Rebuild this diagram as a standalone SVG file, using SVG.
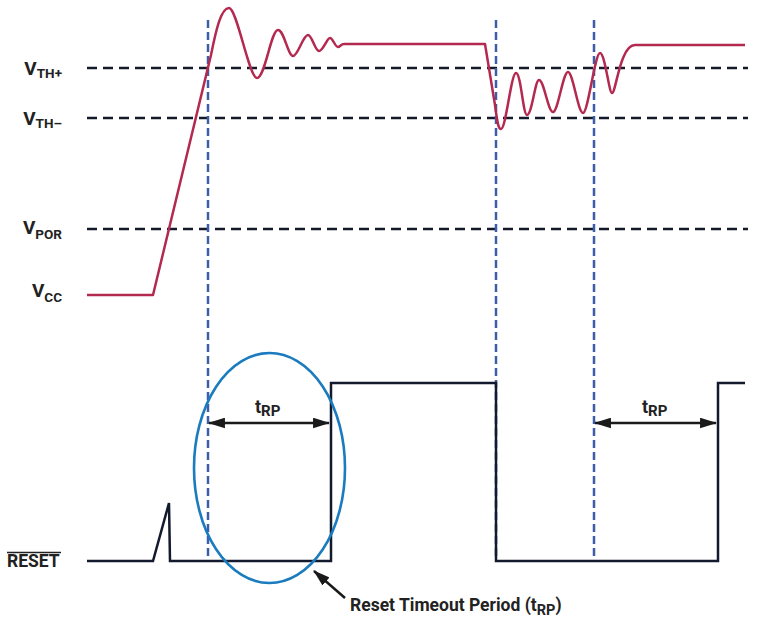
<svg xmlns="http://www.w3.org/2000/svg" width="760" height="619" viewBox="0 0 760 619">
<defs>
<style>
.lbl{font-family:Roboto,"Liberation Sans",sans-serif;font-weight:700;fill:#222;}
.v{font-size:19px;}
.sub{font-size:13.5px;}
.thr{stroke:#151a2b;stroke-width:2.3;stroke-dasharray:10 6;fill:none;}
.mark{stroke:#3c5ea8;stroke-width:2.5;stroke-dasharray:8 4;fill:none;}
.sig{stroke:#141a2e;stroke-width:2.5;fill:none;stroke-linejoin:miter;}
.vcc{stroke:#b3294f;stroke-width:2.5;fill:none;stroke-linejoin:round;}
.dim{stroke:#1a1a1a;stroke-width:2.5;fill:none;}
</style>
<marker id="ah" viewBox="0 0 16 10" refX="15" refY="5" markerWidth="17" markerHeight="11" markerUnits="userSpaceOnUse" orient="auto-start-reverse">
<path d="M0,0 L16,5 L0,10 Z" fill="#1a1a1a"/>
</marker>
</defs>
<rect width="760" height="619" fill="#ffffff"/>

<g id="labels">
<text class="lbl v" x="62" y="75" text-anchor="end">V<tspan class="sub" dy="3">TH+</tspan></text>
<text class="lbl v" x="62" y="125" text-anchor="end">V<tspan class="sub" dy="3">TH–</tspan></text>
<text class="lbl v" x="62" y="234" text-anchor="end">V<tspan class="sub" dy="5">POR</tspan></text>
<text class="lbl v" x="62" y="297" text-anchor="end">V<tspan class="sub" dy="5">CC</tspan></text>
<text class="lbl" x="7" y="567" font-size="17.5">RESET</text>
<line x1="7" y1="552.5" x2="61" y2="552.5" stroke="#222" stroke-width="1.6"/>
</g>

<g id="thresholds">
<line class="thr" x1="87" y1="68" x2="748" y2="68"/>
<line class="thr" x1="87" y1="118" x2="748" y2="118"/>
<line class="thr" x1="87" y1="229" x2="748" y2="229"/>
</g>

<g id="markers">
<line class="mark" x1="208" y1="20" x2="208" y2="560"/>
<line class="mark" x1="496" y1="20" x2="496" y2="560"/>
<line class="mark" x1="594" y1="20" x2="594" y2="560"/>
</g>

<g id="vcc-trace">
<path class="vcc" d="M87,295 L153,295 L211,55 C216,30 221,8 229,8 C237,8 249,78 257,78 C265,78 271,30 278,30 C284,30 288,56 293,56 C298,56 303,35 308,35 C312,35 315,51 319,51 C323,51 327,38 330,38 C333,38 335,47 338,47 C340,47 341,44 344,44 L485,44 L495,105 C497,120 498,129 501,129 C506,129 511,73 516,73 C521,73 523,115 527,115 C532,115 535,80 539,80 C544,80 548,112 553,112 C558,112 563,72 568,72 C573,72 578,113 583,113 C588,113 595,53 600,53 C605,53 609,93 612,93 C616,93 620,45 635,45 L745,45"/>
</g>

<g id="reset-trace">
<path class="sig" d="M87,561 L153,561 L169,503 L170,561 L331,561 L331,383 L496,383 L496,561 L718,561 L718,383 L745,383"/>
</g>

<g id="connectors">
<line class="dim" x1="209" y1="423" x2="329" y2="423" marker-start="url(#ah)" marker-end="url(#ah)"/>
<line class="dim" x1="595" y1="423" x2="716" y2="423" marker-start="url(#ah)" marker-end="url(#ah)"/>
<line x1="345" y1="598" x2="314" y2="571" stroke="#1a1a1a" stroke-width="2.5" marker-end="url(#ah)"/>
</g>

<g id="trp1">
<text class="lbl" x="255" y="413" font-size="18">t<tspan font-size="15" dy="3">RP</tspan></text>
</g>
<g id="trp2">
<text class="lbl" x="642" y="413" font-size="18">t<tspan font-size="15" dy="3">RP</tspan></text>
</g>

<g id="highlight">
<ellipse cx="269.5" cy="468" rx="75.5" ry="115" fill="none" stroke="#1b7bbf" stroke-width="2.6"/>
</g>

<g id="note">
<text class="lbl" x="350" y="611" font-size="17.5">Reset Timeout Period (t<tspan font-size="14.5" dy="4">RP</tspan><tspan dy="-4">)</tspan></text>
</g>
</svg>
